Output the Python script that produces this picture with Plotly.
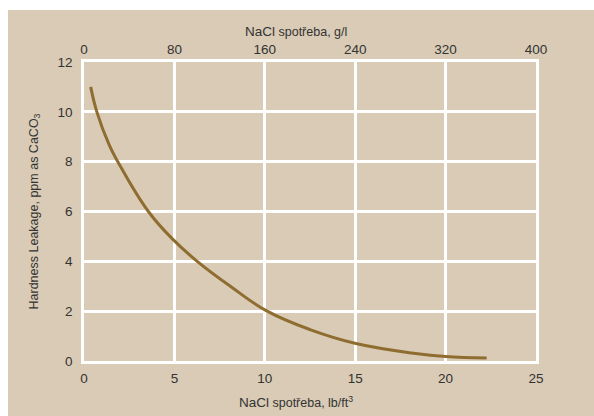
import plotly.graph_objects as go

# Curve (NaCl lb/ft3 -> hardness leakage ppm as CaCO3)
nacl_lb = [0.37, 0.71, 1.40, 1.87, 3.56, 4.96, 6.26, 8.15, 10.13, 12.54, 15.04, 18.34, 20.0, 22.27]
leakage = [11.0, 10.0, 8.66, 8.0, 6.0, 4.85, 4.0, 2.97, 2.0, 1.25, 0.70, 0.30, 0.18, 0.12]

x_ticks = [0, 5, 10, 15, 20, 25]
y_ticks = [0, 2, 4, 6, 8, 10, 12]
top_ticks = [0, 80, 160, 240, 320, 400]

BG = "#d9cbb5"
GRID = "#ffffff"
LINE = "#8f6d30"
TXT = "#333333"
FONT = "Liberation Sans, Arial, sans-serif"

fig = go.Figure()
fig.add_trace(go.Scatter(x=nacl_lb, y=leakage, mode="lines",
                         line=dict(color=LINE, width=3, shape="spline", smoothing=1.2),
                         showlegend=False, hoverinfo="skip"))
fig.add_trace(go.Scatter(x=[top_ticks[0], top_ticks[-1]], y=[0, 0], xaxis="x2", mode="lines",
                         opacity=0, showlegend=False, hoverinfo="skip"))

L, R, T, B = 84, 58, 62, 55
W, H = 594, 416
pw, ph = W - L - R, H - T - B

fig.add_shape(type="rect", xref="paper", yref="paper", layer="below",
              x0=(8 - L) / pw, x1=(W + 10 - L) / pw,
              y0=-(B + 10) / ph, y1=(H - B - 10) / ph,
              fillcolor=BG, line=dict(width=0))

title_x = (296 - L) / pw
fig.add_annotation(xref="paper", yref="paper", x=title_x, y=(H - B - 31) / ph,
                   xanchor="center", yanchor="middle", showarrow=False,
                   text="<span style='font-size:13.5px'>NaCl</span> spotřeba, g/l",
                   font=dict(family=FONT, size=12.5, color=TXT))
fig.add_annotation(xref="paper", yref="paper", x=title_x, y=(H - B - 402) / ph,
                   xanchor="center", yanchor="middle", showarrow=False,
                   text="<span style='font-size:13.5px'>NaCl</span> spotřeba, lb/ft<sup>3</sup>",
                   font=dict(family=FONT, size=12.5, color=TXT))

fig.update_layout(
    width=W, height=H,
    margin=dict(l=L, r=R, t=T, b=B, autoexpand=False),
    paper_bgcolor="white", plot_bgcolor="rgba(0,0,0,0)",
    font=dict(family=FONT, size=12, color=TXT),
    hovermode=False,
    xaxis=dict(range=[0, 25], tickvals=x_ticks, showgrid=True, gridcolor=GRID, gridwidth=2.5,
               zeroline=False, showline=True, linecolor=GRID, linewidth=2.5, mirror=True,
               ticks="outside", ticklen=3, tickcolor="rgba(0,0,0,0)", automargin=False,
               tickfont=dict(size=13.5, color=TXT)),
    xaxis2=dict(range=[0, 400], tickvals=top_ticks, overlaying="x", side="top", showgrid=False,
                zeroline=False, showline=False, ticks="outside", ticklen=2, automargin=False,
                tickcolor="rgba(0,0,0,0)", tickfont=dict(size=13.5, color=TXT)),
    yaxis=dict(range=[0, 12], tickvals=y_ticks, showgrid=True, gridcolor=GRID, gridwidth=2.5,
               zeroline=False, showline=True, linecolor=GRID, linewidth=2.5, mirror=True,
               ticks="outside", ticklen=6, tickcolor="rgba(0,0,0,0)", automargin=False,
               tickfont=dict(size=13.5, color=TXT),
               title=dict(text="Hardness Leakage, ppm as CaCO<sub>3</sub>",
                          font=dict(size=12.5, color=TXT), standoff=17)),
)

fig.write_html("out.html", config={"displayModeBar": False},
               post_script="document.body.style.margin='0';document.body.style.overflow='hidden';")
